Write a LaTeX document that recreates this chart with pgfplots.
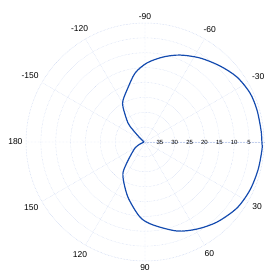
\documentclass[border=0pt]{standalone}
\usepackage{fontspec}
\setmainfont{Liberation Sans}
\usepackage{pgfplots}
\pgfplotsset{compat=1.18}
\usepgfplotslibrary{polar}
\definecolor{curve}{RGB}{20,75,175}
\definecolor{gridc}{RGB}{195,208,238}
\begin{document}
\begin{tikzpicture}
\begin{polaraxis}[
 scale only axis, width=238pt, height=238pt,
 xmin=0, xmax=360, ymin=0, ymax=40,
 xtick={0,30,...,330},
 xticklabels={{},-30,-60,-90,-120,-150,180,150,120,90,60,30},
 ytick={5,10,...,35},
 yticklabels={35,30,25,20,15,10,5},
 grid=major,
 major grid style={gridc, densely dotted, line width=0.4pt},
 axis line style={gridc, densely dotted, line width=0.5pt},
 major tick length=0pt,
 xticklabel style={font=\fontsize{8.5}{10}\selectfont},
 yticklabel style={font=\fontsize{6}{7}\selectfont, anchor=center},
 /pgf/number format/assume math mode=true,
 clip=false,
]
\addplot[curve, line width=1.2pt, smooth] table[x expr=-\thisrow{a}, y expr=40-\thisrow{v}] {
a v
-180 39.7
-140 37.4
-135 34.3
-131.8 31.4
-122.2 26.1
-117.6 24.1
-109.1 21.5
-98.2 16.6
-88.5 13.4
-78.0 10.8
-68.1 8.5
-56.8 6.25
-45.4 4.1
-35.2 2.15
-25.0 1.05
-15.9 0.85
-5.9 0.8
0 0.7
3.9 0.6
13.9 0.87
24.6 1.2
35.7 1.95
48.0 3.8
59.1 5.9
70.2 8.2
84.5 12.0
93.8 14.7
107.2 20.6
122.2 26.1
128.7 29.2
149 36.1
180 39.7
};
\coordinate (c) at (axis cs:0,0);
\end{polaraxis}
\pgfresetboundingbox
\path[use as bounding box] (c) ++(-145pt,142pt) rectangle ++(265pt,-270pt);
\end{tikzpicture}
\end{document}
